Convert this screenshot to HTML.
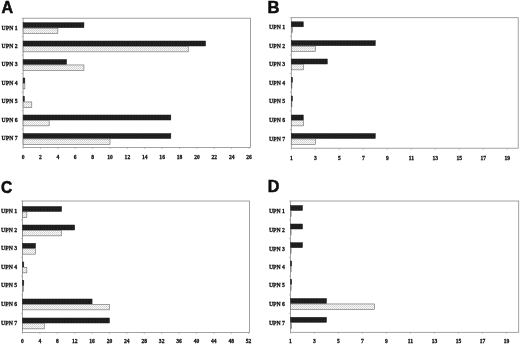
<!DOCTYPE html>
<html><head><meta charset="utf-8"><title>Figure</title>
<style>
html,body{margin:0;padding:0;background:#fff;}
body{width:520px;height:345px;overflow:hidden;}
svg{display:block;}
.l{font-family:"Liberation Sans",sans-serif;font-weight:bold;font-size:17px;fill:#0a0a0a;stroke:#0a0a0a;stroke-width:0.5px;}
.u{font-family:"Liberation Serif",serif;font-weight:bold;font-size:6.9px;fill:#111;stroke:#111;stroke-width:0.3px;}
.t{font-family:"Liberation Serif",serif;font-weight:bold;font-size:6.8px;fill:#111;stroke:#111;stroke-width:0.3px;text-anchor:middle;}
</style></head><body>
<svg width="520" height="345" viewBox="0 0 520 345">
<defs>
<pattern id="h" width="2" height="2" patternUnits="userSpaceOnUse"><rect width="2" height="2" fill="#fafafa"/><rect x="0" y="0" width="1" height="1" fill="#cfcfcf"/><rect x="1" y="1" width="1" height="1" fill="#dadada"/></pattern>
<pattern id="d" width="3" height="2" patternUnits="userSpaceOnUse"><rect width="3" height="2" fill="#1e1e1e"/><rect x="0" y="0" width="1" height="1" fill="#2b2b2b"/></pattern>
<filter id="b" x="-2%" y="-2%" width="104%" height="104%"><feGaussianBlur stdDeviation="0.35"/></filter>
</defs>
<rect width="520" height="345" fill="#fff"/>
<g filter="url(#b)">
<text class="l" x="1.6" y="13.4" textLength="11.6" lengthAdjust="spacingAndGlyphs">A</text>
<rect x="23.1" y="18.2" width="227.40" height="129.30" fill="#fff" stroke="#8a8a8a" stroke-width="0.8"/>
<line x1="23.10" y1="147.5" x2="23.10" y2="149.0" stroke="#9a9a9a" stroke-width="0.6"/><text class="t" transform="translate(23.10,158.9) scale(0.82,1)">0</text>
<line x1="40.48" y1="147.5" x2="40.48" y2="149.0" stroke="#9a9a9a" stroke-width="0.6"/><text class="t" transform="translate(40.48,158.9) scale(0.82,1)">2</text>
<line x1="57.86" y1="147.5" x2="57.86" y2="149.0" stroke="#9a9a9a" stroke-width="0.6"/><text class="t" transform="translate(57.86,158.9) scale(0.82,1)">4</text>
<line x1="75.24" y1="147.5" x2="75.24" y2="149.0" stroke="#9a9a9a" stroke-width="0.6"/><text class="t" transform="translate(75.24,158.9) scale(0.82,1)">6</text>
<line x1="92.62" y1="147.5" x2="92.62" y2="149.0" stroke="#9a9a9a" stroke-width="0.6"/><text class="t" transform="translate(92.62,158.9) scale(0.82,1)">8</text>
<line x1="110.00" y1="147.5" x2="110.00" y2="149.0" stroke="#9a9a9a" stroke-width="0.6"/><text class="t" transform="translate(110.00,158.9) scale(0.82,1)">10</text>
<line x1="127.38" y1="147.5" x2="127.38" y2="149.0" stroke="#9a9a9a" stroke-width="0.6"/><text class="t" transform="translate(127.38,158.9) scale(0.82,1)">12</text>
<line x1="144.76" y1="147.5" x2="144.76" y2="149.0" stroke="#9a9a9a" stroke-width="0.6"/><text class="t" transform="translate(144.76,158.9) scale(0.82,1)">14</text>
<line x1="162.14" y1="147.5" x2="162.14" y2="149.0" stroke="#9a9a9a" stroke-width="0.6"/><text class="t" transform="translate(162.14,158.9) scale(0.82,1)">16</text>
<line x1="179.52" y1="147.5" x2="179.52" y2="149.0" stroke="#9a9a9a" stroke-width="0.6"/><text class="t" transform="translate(179.52,158.9) scale(0.82,1)">18</text>
<line x1="196.90" y1="147.5" x2="196.90" y2="149.0" stroke="#9a9a9a" stroke-width="0.6"/><text class="t" transform="translate(196.90,158.9) scale(0.82,1)">20</text>
<line x1="214.28" y1="147.5" x2="214.28" y2="149.0" stroke="#9a9a9a" stroke-width="0.6"/><text class="t" transform="translate(214.28,158.9) scale(0.82,1)">22</text>
<line x1="231.66" y1="147.5" x2="231.66" y2="149.0" stroke="#9a9a9a" stroke-width="0.6"/><text class="t" transform="translate(231.66,158.9) scale(0.82,1)">24</text>
<line x1="249.04" y1="147.5" x2="249.04" y2="149.0" stroke="#9a9a9a" stroke-width="0.6"/><text class="t" transform="translate(249.04,158.9) scale(0.82,1)">26</text>
<line x1="21.6" y1="18.20" x2="23.1" y2="18.20" stroke="#9a9a9a" stroke-width="0.6"/><text class="u" x="1.6" y="29.50" textLength="16.0" lengthAdjust="spacingAndGlyphs">UPN 1</text>
<rect x="23.1" y="22.70" width="60.83" height="5.0" fill="url(#d)" stroke="#1a1a1a" stroke-width="0.5"/>
<rect x="23.1" y="28.15" width="34.76" height="5.4" fill="url(#h)" stroke="#666" stroke-width="0.6"/>
<line x1="21.6" y1="36.67" x2="23.1" y2="36.67" stroke="#9a9a9a" stroke-width="0.6"/><text class="u" x="1.6" y="47.80" textLength="16.0" lengthAdjust="spacingAndGlyphs">UPN 2</text>
<rect x="23.1" y="41.00" width="182.49" height="5.0" fill="url(#d)" stroke="#1a1a1a" stroke-width="0.5"/>
<rect x="23.1" y="46.45" width="165.11" height="5.4" fill="url(#h)" stroke="#666" stroke-width="0.6"/>
<line x1="21.6" y1="55.14" x2="23.1" y2="55.14" stroke="#9a9a9a" stroke-width="0.6"/><text class="u" x="1.6" y="66.30" textLength="16.0" lengthAdjust="spacingAndGlyphs">UPN 3</text>
<rect x="23.1" y="59.50" width="43.45" height="5.0" fill="url(#d)" stroke="#1a1a1a" stroke-width="0.5"/>
<rect x="23.1" y="64.95" width="60.83" height="5.4" fill="url(#h)" stroke="#666" stroke-width="0.6"/>
<line x1="21.6" y1="73.61" x2="23.1" y2="73.61" stroke="#9a9a9a" stroke-width="0.6"/><text class="u" x="1.6" y="84.80" textLength="16.0" lengthAdjust="spacingAndGlyphs">UPN 4</text>
<rect x="23.1" y="78.00" width="1.74" height="5.0" fill="url(#d)" stroke="#1a1a1a" stroke-width="0.5"/>
<rect x="23.1" y="83.45" width="1.74" height="5.4" fill="url(#h)" stroke="#666" stroke-width="0.6"/>
<line x1="21.6" y1="92.09" x2="23.1" y2="92.09" stroke="#9a9a9a" stroke-width="0.6"/><text class="u" x="1.6" y="103.30" textLength="16.0" lengthAdjust="spacingAndGlyphs">UPN 5</text>
<rect x="23.1" y="96.50" width="1.30" height="5.0" fill="url(#d)" stroke="#1a1a1a" stroke-width="0.5"/>
<rect x="23.1" y="101.95" width="8.69" height="5.4" fill="url(#h)" stroke="#666" stroke-width="0.6"/>
<line x1="21.6" y1="110.56" x2="23.1" y2="110.56" stroke="#9a9a9a" stroke-width="0.6"/><text class="u" x="1.6" y="121.80" textLength="16.0" lengthAdjust="spacingAndGlyphs">UPN 6</text>
<rect x="23.1" y="115.00" width="147.73" height="5.0" fill="url(#d)" stroke="#1a1a1a" stroke-width="0.5"/>
<rect x="23.1" y="120.45" width="26.07" height="5.4" fill="url(#h)" stroke="#666" stroke-width="0.6"/>
<line x1="21.6" y1="129.03" x2="23.1" y2="129.03" stroke="#9a9a9a" stroke-width="0.6"/><text class="u" x="1.6" y="140.30" textLength="16.0" lengthAdjust="spacingAndGlyphs">UPN 7</text>
<rect x="23.1" y="133.50" width="147.73" height="5.0" fill="url(#d)" stroke="#1a1a1a" stroke-width="0.5"/>
<rect x="23.1" y="138.95" width="86.90" height="5.4" fill="url(#h)" stroke="#666" stroke-width="0.6"/>
<text class="l" x="267.6" y="13.4" textLength="12.0" lengthAdjust="spacingAndGlyphs">B</text>
<rect x="291.3" y="17.7" width="226.90" height="130.50" fill="#fff" stroke="#8a8a8a" stroke-width="0.8"/>
<line x1="291.30" y1="148.2" x2="291.30" y2="149.7" stroke="#9a9a9a" stroke-width="0.6"/><text class="t" transform="translate(291.30,159.5) scale(0.82,1)">1</text>
<line x1="315.30" y1="148.2" x2="315.30" y2="149.7" stroke="#9a9a9a" stroke-width="0.6"/><text class="t" transform="translate(315.30,159.5) scale(0.82,1)">3</text>
<line x1="339.30" y1="148.2" x2="339.30" y2="149.7" stroke="#9a9a9a" stroke-width="0.6"/><text class="t" transform="translate(339.30,159.5) scale(0.82,1)">5</text>
<line x1="363.30" y1="148.2" x2="363.30" y2="149.7" stroke="#9a9a9a" stroke-width="0.6"/><text class="t" transform="translate(363.30,159.5) scale(0.82,1)">7</text>
<line x1="387.30" y1="148.2" x2="387.30" y2="149.7" stroke="#9a9a9a" stroke-width="0.6"/><text class="t" transform="translate(387.30,159.5) scale(0.82,1)">9</text>
<line x1="411.30" y1="148.2" x2="411.30" y2="149.7" stroke="#9a9a9a" stroke-width="0.6"/><text class="t" transform="translate(411.30,159.5) scale(0.82,1)">11</text>
<line x1="435.30" y1="148.2" x2="435.30" y2="149.7" stroke="#9a9a9a" stroke-width="0.6"/><text class="t" transform="translate(435.30,159.5) scale(0.82,1)">13</text>
<line x1="459.30" y1="148.2" x2="459.30" y2="149.7" stroke="#9a9a9a" stroke-width="0.6"/><text class="t" transform="translate(459.30,159.5) scale(0.82,1)">15</text>
<line x1="483.30" y1="148.2" x2="483.30" y2="149.7" stroke="#9a9a9a" stroke-width="0.6"/><text class="t" transform="translate(483.30,159.5) scale(0.82,1)">17</text>
<line x1="507.30" y1="148.2" x2="507.30" y2="149.7" stroke="#9a9a9a" stroke-width="0.6"/><text class="t" transform="translate(507.30,159.5) scale(0.82,1)">19</text>
<line x1="289.8" y1="17.70" x2="291.3" y2="17.70" stroke="#9a9a9a" stroke-width="0.6"/><text class="u" x="269.1" y="29.20" textLength="16.0" lengthAdjust="spacingAndGlyphs">UPN 1</text>
<rect x="291.3" y="21.80" width="12.00" height="5.0" fill="url(#d)" stroke="#1a1a1a" stroke-width="0.5"/>
<rect x="291.3" y="27.25" width="1.20" height="5.4" fill="url(#h)" stroke="#666" stroke-width="0.6"/>
<line x1="289.8" y1="36.34" x2="291.3" y2="36.34" stroke="#9a9a9a" stroke-width="0.6"/><text class="u" x="269.1" y="48.10" textLength="16.0" lengthAdjust="spacingAndGlyphs">UPN 2</text>
<rect x="291.3" y="40.70" width="84.00" height="5.0" fill="url(#d)" stroke="#1a1a1a" stroke-width="0.5"/>
<rect x="291.3" y="46.15" width="24.00" height="5.4" fill="url(#h)" stroke="#666" stroke-width="0.6"/>
<line x1="289.8" y1="54.99" x2="291.3" y2="54.99" stroke="#9a9a9a" stroke-width="0.6"/><text class="u" x="269.1" y="66.40" textLength="16.0" lengthAdjust="spacingAndGlyphs">UPN 3</text>
<rect x="291.3" y="59.00" width="36.00" height="5.0" fill="url(#d)" stroke="#1a1a1a" stroke-width="0.5"/>
<rect x="291.3" y="64.45" width="12.00" height="5.4" fill="url(#h)" stroke="#666" stroke-width="0.6"/>
<line x1="289.8" y1="73.63" x2="291.3" y2="73.63" stroke="#9a9a9a" stroke-width="0.6"/><text class="u" x="269.1" y="84.90" textLength="16.0" lengthAdjust="spacingAndGlyphs">UPN 4</text>
<rect x="291.3" y="77.50" width="1.20" height="5.0" fill="url(#d)" stroke="#1a1a1a" stroke-width="0.5"/>
<rect x="291.3" y="82.95" width="0.60" height="5.4" fill="url(#h)" stroke="#666" stroke-width="0.6"/>
<line x1="289.8" y1="92.27" x2="291.3" y2="92.27" stroke="#9a9a9a" stroke-width="0.6"/><text class="u" x="269.1" y="103.40" textLength="16.0" lengthAdjust="spacingAndGlyphs">UPN 5</text>
<rect x="291.3" y="96.00" width="1.20" height="5.0" fill="url(#d)" stroke="#1a1a1a" stroke-width="0.5"/>
<rect x="291.3" y="101.45" width="0.60" height="5.4" fill="url(#h)" stroke="#666" stroke-width="0.6"/>
<line x1="289.8" y1="110.91" x2="291.3" y2="110.91" stroke="#9a9a9a" stroke-width="0.6"/><text class="u" x="269.1" y="122.40" textLength="16.0" lengthAdjust="spacingAndGlyphs">UPN 6</text>
<rect x="291.3" y="115.00" width="12.00" height="5.0" fill="url(#d)" stroke="#1a1a1a" stroke-width="0.5"/>
<rect x="291.3" y="120.45" width="12.00" height="5.4" fill="url(#h)" stroke="#666" stroke-width="0.6"/>
<line x1="289.8" y1="129.56" x2="291.3" y2="129.56" stroke="#9a9a9a" stroke-width="0.6"/><text class="u" x="269.1" y="140.90" textLength="16.0" lengthAdjust="spacingAndGlyphs">UPN 7</text>
<rect x="291.3" y="133.50" width="84.00" height="5.0" fill="url(#d)" stroke="#1a1a1a" stroke-width="0.5"/>
<rect x="291.3" y="138.95" width="24.00" height="5.4" fill="url(#h)" stroke="#666" stroke-width="0.6"/>
<text class="l" x="1.1" y="193.1" textLength="11.2" lengthAdjust="spacingAndGlyphs">C</text>
<rect x="22.5" y="201" width="227.00" height="131.50" fill="#fff" stroke="#8a8a8a" stroke-width="0.8"/>
<line x1="22.50" y1="332.5" x2="22.50" y2="334.0" stroke="#9a9a9a" stroke-width="0.6"/><text class="t" transform="translate(22.50,342.6) scale(0.82,1)">0</text>
<line x1="39.89" y1="332.5" x2="39.89" y2="334.0" stroke="#9a9a9a" stroke-width="0.6"/><text class="t" transform="translate(39.89,342.6) scale(0.82,1)">4</text>
<line x1="57.28" y1="332.5" x2="57.28" y2="334.0" stroke="#9a9a9a" stroke-width="0.6"/><text class="t" transform="translate(57.28,342.6) scale(0.82,1)">8</text>
<line x1="74.68" y1="332.5" x2="74.68" y2="334.0" stroke="#9a9a9a" stroke-width="0.6"/><text class="t" transform="translate(74.68,342.6) scale(0.82,1)">12</text>
<line x1="92.07" y1="332.5" x2="92.07" y2="334.0" stroke="#9a9a9a" stroke-width="0.6"/><text class="t" transform="translate(92.07,342.6) scale(0.82,1)">16</text>
<line x1="109.46" y1="332.5" x2="109.46" y2="334.0" stroke="#9a9a9a" stroke-width="0.6"/><text class="t" transform="translate(109.46,342.6) scale(0.82,1)">20</text>
<line x1="126.85" y1="332.5" x2="126.85" y2="334.0" stroke="#9a9a9a" stroke-width="0.6"/><text class="t" transform="translate(126.85,342.6) scale(0.82,1)">24</text>
<line x1="144.24" y1="332.5" x2="144.24" y2="334.0" stroke="#9a9a9a" stroke-width="0.6"/><text class="t" transform="translate(144.24,342.6) scale(0.82,1)">28</text>
<line x1="161.64" y1="332.5" x2="161.64" y2="334.0" stroke="#9a9a9a" stroke-width="0.6"/><text class="t" transform="translate(161.64,342.6) scale(0.82,1)">32</text>
<line x1="179.03" y1="332.5" x2="179.03" y2="334.0" stroke="#9a9a9a" stroke-width="0.6"/><text class="t" transform="translate(179.03,342.6) scale(0.82,1)">36</text>
<line x1="196.42" y1="332.5" x2="196.42" y2="334.0" stroke="#9a9a9a" stroke-width="0.6"/><text class="t" transform="translate(196.42,342.6) scale(0.82,1)">40</text>
<line x1="213.81" y1="332.5" x2="213.81" y2="334.0" stroke="#9a9a9a" stroke-width="0.6"/><text class="t" transform="translate(213.81,342.6) scale(0.82,1)">44</text>
<line x1="231.20" y1="332.5" x2="231.20" y2="334.0" stroke="#9a9a9a" stroke-width="0.6"/><text class="t" transform="translate(231.20,342.6) scale(0.82,1)">48</text>
<line x1="248.60" y1="332.5" x2="248.60" y2="334.0" stroke="#9a9a9a" stroke-width="0.6"/><text class="t" transform="translate(248.60,342.6) scale(0.82,1)">52</text>
<line x1="21.0" y1="201.00" x2="22.5" y2="201.00" stroke="#9a9a9a" stroke-width="0.6"/><text class="u" x="1.1" y="213.10" textLength="16.0" lengthAdjust="spacingAndGlyphs">UPN 1</text>
<rect x="22.5" y="206.50" width="39.13" height="5.0" fill="url(#d)" stroke="#1a1a1a" stroke-width="0.5"/>
<rect x="22.5" y="211.95" width="4.35" height="5.4" fill="url(#h)" stroke="#666" stroke-width="0.6"/>
<line x1="21.0" y1="219.79" x2="22.5" y2="219.79" stroke="#9a9a9a" stroke-width="0.6"/><text class="u" x="1.1" y="231.60" textLength="16.0" lengthAdjust="spacingAndGlyphs">UPN 2</text>
<rect x="22.5" y="225.00" width="52.18" height="5.0" fill="url(#d)" stroke="#1a1a1a" stroke-width="0.5"/>
<rect x="22.5" y="230.45" width="39.13" height="5.4" fill="url(#h)" stroke="#666" stroke-width="0.6"/>
<line x1="21.0" y1="238.57" x2="22.5" y2="238.57" stroke="#9a9a9a" stroke-width="0.6"/><text class="u" x="1.1" y="249.90" textLength="16.0" lengthAdjust="spacingAndGlyphs">UPN 3</text>
<rect x="22.5" y="243.30" width="13.04" height="5.0" fill="url(#d)" stroke="#1a1a1a" stroke-width="0.5"/>
<rect x="22.5" y="248.75" width="13.04" height="5.4" fill="url(#h)" stroke="#666" stroke-width="0.6"/>
<line x1="21.0" y1="257.36" x2="22.5" y2="257.36" stroke="#9a9a9a" stroke-width="0.6"/><text class="u" x="1.1" y="268.60" textLength="16.0" lengthAdjust="spacingAndGlyphs">UPN 4</text>
<rect x="22.5" y="262.00" width="1.30" height="5.0" fill="url(#d)" stroke="#1a1a1a" stroke-width="0.5"/>
<rect x="22.5" y="267.45" width="4.35" height="5.4" fill="url(#h)" stroke="#666" stroke-width="0.6"/>
<line x1="21.0" y1="276.14" x2="22.5" y2="276.14" stroke="#9a9a9a" stroke-width="0.6"/><text class="u" x="1.1" y="287.10" textLength="16.0" lengthAdjust="spacingAndGlyphs">UPN 5</text>
<rect x="22.5" y="280.50" width="1.30" height="5.0" fill="url(#d)" stroke="#1a1a1a" stroke-width="0.5"/>
<rect x="22.5" y="285.95" width="0.87" height="5.4" fill="url(#h)" stroke="#666" stroke-width="0.6"/>
<line x1="21.0" y1="294.93" x2="22.5" y2="294.93" stroke="#9a9a9a" stroke-width="0.6"/><text class="u" x="1.1" y="305.60" textLength="16.0" lengthAdjust="spacingAndGlyphs">UPN 6</text>
<rect x="22.5" y="299.00" width="69.57" height="5.0" fill="url(#d)" stroke="#1a1a1a" stroke-width="0.5"/>
<rect x="22.5" y="304.45" width="86.96" height="5.4" fill="url(#h)" stroke="#666" stroke-width="0.6"/>
<line x1="21.0" y1="313.71" x2="22.5" y2="313.71" stroke="#9a9a9a" stroke-width="0.6"/><text class="u" x="1.1" y="324.60" textLength="16.0" lengthAdjust="spacingAndGlyphs">UPN 7</text>
<rect x="22.5" y="318.00" width="86.96" height="5.0" fill="url(#d)" stroke="#1a1a1a" stroke-width="0.5"/>
<rect x="22.5" y="323.45" width="21.74" height="5.4" fill="url(#h)" stroke="#666" stroke-width="0.6"/>
<text class="l" x="267.8" y="192.2" textLength="11.6" lengthAdjust="spacingAndGlyphs">D</text>
<rect x="290.5" y="201" width="228.20" height="131.30" fill="#fff" stroke="#8a8a8a" stroke-width="0.8"/>
<line x1="290.50" y1="332.3" x2="290.50" y2="333.8" stroke="#9a9a9a" stroke-width="0.6"/><text class="t" transform="translate(290.50,342.6) scale(0.82,1)">1</text>
<line x1="314.50" y1="332.3" x2="314.50" y2="333.8" stroke="#9a9a9a" stroke-width="0.6"/><text class="t" transform="translate(314.50,342.6) scale(0.82,1)">3</text>
<line x1="338.50" y1="332.3" x2="338.50" y2="333.8" stroke="#9a9a9a" stroke-width="0.6"/><text class="t" transform="translate(338.50,342.6) scale(0.82,1)">5</text>
<line x1="362.50" y1="332.3" x2="362.50" y2="333.8" stroke="#9a9a9a" stroke-width="0.6"/><text class="t" transform="translate(362.50,342.6) scale(0.82,1)">7</text>
<line x1="386.50" y1="332.3" x2="386.50" y2="333.8" stroke="#9a9a9a" stroke-width="0.6"/><text class="t" transform="translate(386.50,342.6) scale(0.82,1)">9</text>
<line x1="410.50" y1="332.3" x2="410.50" y2="333.8" stroke="#9a9a9a" stroke-width="0.6"/><text class="t" transform="translate(410.50,342.6) scale(0.82,1)">11</text>
<line x1="434.50" y1="332.3" x2="434.50" y2="333.8" stroke="#9a9a9a" stroke-width="0.6"/><text class="t" transform="translate(434.50,342.6) scale(0.82,1)">13</text>
<line x1="458.50" y1="332.3" x2="458.50" y2="333.8" stroke="#9a9a9a" stroke-width="0.6"/><text class="t" transform="translate(458.50,342.6) scale(0.82,1)">15</text>
<line x1="482.50" y1="332.3" x2="482.50" y2="333.8" stroke="#9a9a9a" stroke-width="0.6"/><text class="t" transform="translate(482.50,342.6) scale(0.82,1)">17</text>
<line x1="506.50" y1="332.3" x2="506.50" y2="333.8" stroke="#9a9a9a" stroke-width="0.6"/><text class="t" transform="translate(506.50,342.6) scale(0.82,1)">19</text>
<line x1="289.0" y1="201.00" x2="290.5" y2="201.00" stroke="#9a9a9a" stroke-width="0.6"/><text class="u" x="268.9" y="213.30" textLength="16.0" lengthAdjust="spacingAndGlyphs">UPN 1</text>
<rect x="290.5" y="205.50" width="12.00" height="5.0" fill="url(#d)" stroke="#1a1a1a" stroke-width="0.5"/>
<rect x="290.5" y="210.95" width="0.60" height="5.4" fill="url(#h)" stroke="#666" stroke-width="0.6"/>
<line x1="289.0" y1="219.76" x2="290.5" y2="219.76" stroke="#9a9a9a" stroke-width="0.6"/><text class="u" x="268.9" y="231.80" textLength="16.0" lengthAdjust="spacingAndGlyphs">UPN 2</text>
<rect x="290.5" y="224.00" width="12.00" height="5.0" fill="url(#d)" stroke="#1a1a1a" stroke-width="0.5"/>
<rect x="290.5" y="229.45" width="0.60" height="5.4" fill="url(#h)" stroke="#666" stroke-width="0.6"/>
<line x1="289.0" y1="238.51" x2="290.5" y2="238.51" stroke="#9a9a9a" stroke-width="0.6"/><text class="u" x="268.9" y="250.50" textLength="16.0" lengthAdjust="spacingAndGlyphs">UPN 3</text>
<rect x="290.5" y="242.70" width="12.00" height="5.0" fill="url(#d)" stroke="#1a1a1a" stroke-width="0.5"/>
<rect x="290.5" y="248.15" width="0.60" height="5.4" fill="url(#h)" stroke="#666" stroke-width="0.6"/>
<line x1="289.0" y1="257.27" x2="290.5" y2="257.27" stroke="#9a9a9a" stroke-width="0.6"/><text class="u" x="268.9" y="268.80" textLength="16.0" lengthAdjust="spacingAndGlyphs">UPN 4</text>
<rect x="290.5" y="261.00" width="1.20" height="5.0" fill="url(#d)" stroke="#1a1a1a" stroke-width="0.5"/>
<rect x="290.5" y="266.45" width="0.60" height="5.4" fill="url(#h)" stroke="#666" stroke-width="0.6"/>
<line x1="289.0" y1="276.03" x2="290.5" y2="276.03" stroke="#9a9a9a" stroke-width="0.6"/><text class="u" x="268.9" y="287.30" textLength="16.0" lengthAdjust="spacingAndGlyphs">UPN 5</text>
<rect x="290.5" y="279.50" width="1.20" height="5.0" fill="url(#d)" stroke="#1a1a1a" stroke-width="0.5"/>
<rect x="290.5" y="284.95" width="0.60" height="5.4" fill="url(#h)" stroke="#666" stroke-width="0.6"/>
<line x1="289.0" y1="294.79" x2="290.5" y2="294.79" stroke="#9a9a9a" stroke-width="0.6"/><text class="u" x="268.9" y="306.30" textLength="16.0" lengthAdjust="spacingAndGlyphs">UPN 6</text>
<rect x="290.5" y="298.50" width="36.00" height="5.0" fill="url(#d)" stroke="#1a1a1a" stroke-width="0.5"/>
<rect x="290.5" y="303.95" width="84.00" height="5.4" fill="url(#h)" stroke="#666" stroke-width="0.6"/>
<line x1="289.0" y1="313.54" x2="290.5" y2="313.54" stroke="#9a9a9a" stroke-width="0.6"/><text class="u" x="268.9" y="325.10" textLength="16.0" lengthAdjust="spacingAndGlyphs">UPN 7</text>
<rect x="290.5" y="317.30" width="36.00" height="5.0" fill="url(#d)" stroke="#1a1a1a" stroke-width="0.5"/>
<rect x="290.5" y="322.75" width="1.20" height="5.4" fill="url(#h)" stroke="#666" stroke-width="0.6"/>
</g>
</svg>
</body></html>
